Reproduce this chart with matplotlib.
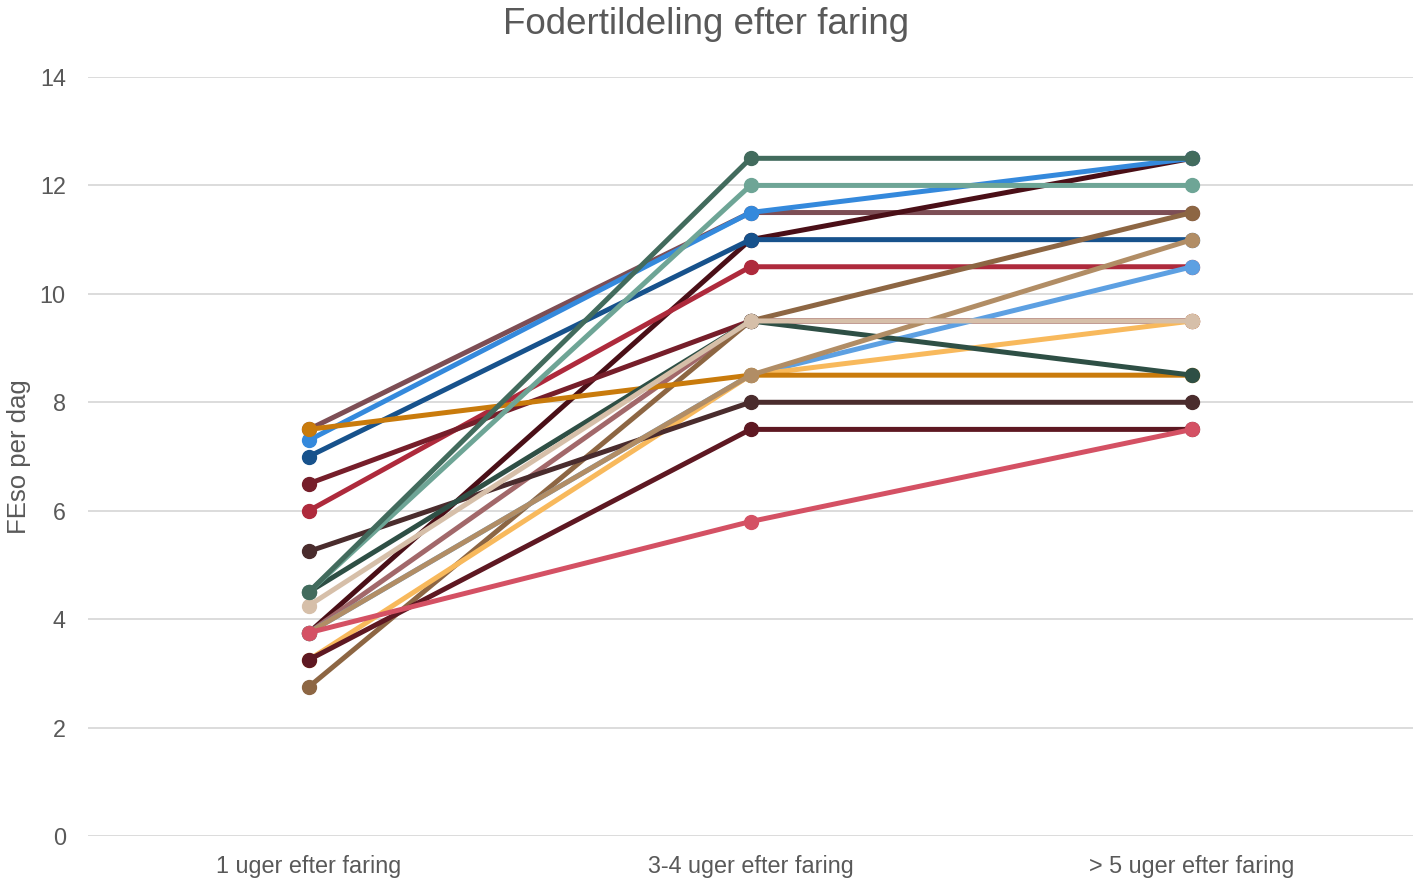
import matplotlib
matplotlib.use("Agg")
import matplotlib.pyplot as plt

categories = ["1 uger efter faring", "3-4 uger efter faring", "> 5 uger efter faring"]

# series values (bottom to top drawing order)
s_mauve = [7.5, 11.5, 11.5]
s_vdarkred = [3.75, 11.0, 12.5]
s_blue = [7.3, 11.5, 12.5]
s_darkblue = [7.0, 11.0, 11.0]
s_red = [6.0, 10.5, 10.5]
s_darkred = [6.5, 9.5, 9.5]
s_pinkish = [3.75, 9.5, 9.5]
s_brown = [2.75, 9.5, 11.5]
s_lightblue = [3.75, 8.5, 10.5]
s_lightorange = [3.25, 8.5, 9.5]
s_maroon = [3.25, 7.5, 7.5]
s_darkbrown = [5.25, 8.0, 8.0]
s_orange = [7.5, 8.5, 8.5]
s_darkgreen = [4.5, 9.5, 8.5]
s_tan = [3.75, 8.5, 11.0]
s_beige = [4.25, 9.5, 9.5]
s_teal = [4.5, 12.0, 12.0]
s_green = [4.5, 12.5, 12.5]
s_pinkred = [3.75, 5.8, 7.5]

series = [
    (s_mauve, "#7D4E55"),
    (s_vdarkred, "#4A0F17"),
    (s_blue, "#3489DC"),
    (s_darkblue, "#17528C"),
    (s_red, "#AE2A3C"),
    (s_darkred, "#761E2A"),
    (s_pinkish, "#A2686A"),
    (s_brown, "#8D6643"),
    (s_lightblue, "#5DA0E2"),
    (s_lightorange, "#F8B95C"),
    (s_maroon, "#5E1822"),
    (s_darkbrown, "#4A2C2D"),
    (s_orange, "#C97B0C"),
    (s_darkgreen, "#2E4F45"),
    (s_tan, "#B18D65"),
    (s_beige, "#D6BFA9"),
    (s_teal, "#6EA596"),
    (s_green, "#426B5D"),
    (s_pinkred, "#D45164"),
]

grey = "#595959"
fig = plt.figure(figsize=(14.15, 8.84), dpi=100)
ax = fig.add_axes([88/1415, 1 - 836/884, (1413-88)/1415, (836-77)/884])

x = list(range(len(categories)))
for vals, col in series:
    ax.plot(x, vals, color=col, lw=3.6, marker="o", markersize=10,
            solid_capstyle="round", zorder=3)

ax.set_xlim(-0.5, 2.5)
ax.set_ylim(0, 14)
ax.set_yticks(range(0, 15, 2))
ax.set_xticks(x)
ax.set_xticklabels(categories)
ax.grid(axis="y", color="#D9D9D9", lw=1.3)
ax.set_axisbelow(True)
for sp in ax.spines.values():
    sp.set_visible(False)
ax.tick_params(axis="both", length=0, labelsize=16.8, labelcolor=grey)
ax.tick_params(axis="y", pad=16)
ax.tick_params(axis="x", pad=14)
for lab in ax.get_xticklabels() + ax.get_yticklabels():
    lab.set_family("Liberation Sans")
fig.text(19/1415, 1 - 457/884, "FEso per dag", rotation=90, ha="center", va="center",
         fontsize=18.5, color=grey, family="Liberation Sans")
fig.text(706/1415, 1 - 24/884, "Fodertildeling efter faring", ha="center", va="center",
         fontsize=26.5, color=grey, family="Liberation Sans")

fig.savefig("out.png", dpi=100)
